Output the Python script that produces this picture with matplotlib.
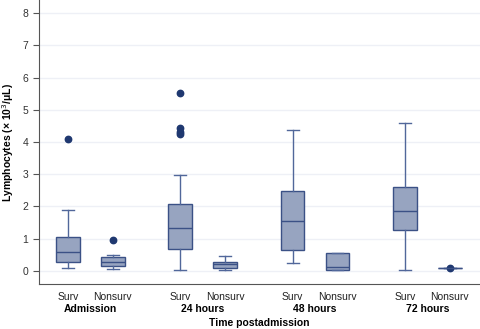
import numpy as np
import matplotlib
matplotlib.use("Agg")
import matplotlib.pyplot as plt

plt.rcParams['font.family'] = ['Liberation Sans', 'DejaVu Sans']

# box statistics (x 10^3/uL)
groups   = ["Admission", "24 hours", "48 hours", "72 hours"]
outcomes = ["Surv", "Nonsurv"]
whislo   = [0.10, 0.04, 0.01, 0.01, 0.24, 0.03, 0.02, 0.08]
q1       = [0.28, 0.15, 0.69, 0.10, 0.65, 0.03, 1.27, 0.08]
med      = [0.58, 0.27, 1.33, 0.21, 1.53, 0.13, 1.84, 0.08]
q3       = [1.05, 0.42, 2.07, 0.28, 2.49, 0.55, 2.61, 0.08]
whishi   = [1.88, 0.49, 2.98, 0.47, 4.37, 0.55, 4.60, 0.08]
fliers   = [[4.08], [0.95], [5.52, 4.43, 4.32, 4.24], [], [], [], [], [0.08]]

positions = [1, 2, 3.5, 4.5, 6, 7, 8.5, 9.5]

stats = []
for i in range(len(positions)):
    stats.append(dict(whislo=whislo[i], q1=q1[i], med=med[i], q3=q3[i],
                      whishi=whishi[i], fliers=fliers[i]))

EDGE = '#3b5186'
FILL = '#97a4c0'
DOT  = '#1f3870'

fig = plt.figure(figsize=(4.8, 3.29), dpi=100)
ax = fig.add_axes([0.081, 0.137, 0.919, 0.863])

ax.bxp(stats, positions=positions, widths=0.53, patch_artist=True,
       showfliers=True,
       boxprops=dict(facecolor=FILL, edgecolor=EDGE, linewidth=1.0),
       medianprops=dict(color=EDGE, linewidth=1.0),
       whiskerprops=dict(color='#51679a', linewidth=1.0),
       capprops=dict(color='#51679a', linewidth=1.0),
       flierprops=dict(marker='o', markerfacecolor=DOT, markeredgecolor=DOT,
                       markersize=4.6))

ax.set_xlim(0.356, 10.17)
ax.set_ylim(-0.41, 8.41)
ax.set_yticks(range(0, 9))
ax.tick_params(axis='y', labelsize=7.5, length=4, color='#555555', labelcolor='#333333')
ax.tick_params(axis='x', length=0, labelsize=7.5, pad=6, labelcolor='#222222')
ax.set_xticks(positions)
ax.set_xticklabels(outcomes * len(groups))

ax.grid(axis='y', color='#eef0f6', linewidth=1.0)
ax.set_axisbelow(True)
for s in ['top', 'right']:
    ax.spines[s].set_visible(False)
ax.spines['left'].set_color('#555555')
ax.spines['bottom'].set_color('#555555')

for g, name in enumerate(groups):
    xc = (positions[2 * g] + positions[2 * g + 1]) / 2
    ax.text(xc, -0.089, name, transform=ax.get_xaxis_transform(),
            ha='center', va='center', fontsize=7.5, fontweight='bold')

ax.text(np.mean([positions[0], positions[-1]]), -0.137, "Time postadmission",
        transform=ax.get_xaxis_transform(), ha='center', va='center',
        fontsize=7.5, fontweight='bold')

ax.set_ylabel(r"Lymphocytes (× 10$^{3}$/μL)", fontsize=7.5, fontweight='bold')
ax.yaxis.set_label_coords(-0.052, 0.5)

fig.savefig("out.png", dpi=100)
